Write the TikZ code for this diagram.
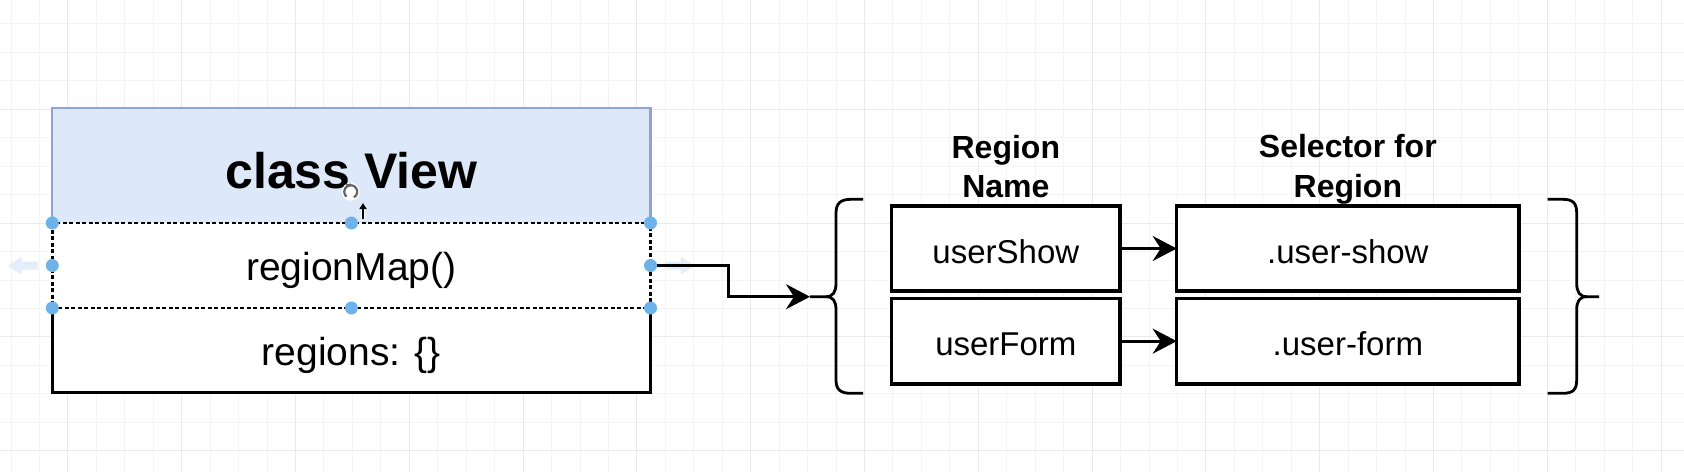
\documentclass[tikz,border=0pt]{standalone}
\usepackage{fontspec}
\setmainfont{Liberation Sans}
\usetikzlibrary{arrows.meta}
\definecolor{gridminor}{HTML}{F4F4F4}
\definecolor{gridmajor}{HTML}{EAEAEA}
\definecolor{hdrfill}{HTML}{DDE8F9}
\definecolor{hdrline}{HTML}{8EA6CF}
\definecolor{handlecol}{HTML}{6DB3EA}
\definecolor{ghostcol}{HTML}{E3EEFA}
\begin{document}
\begin{tikzpicture}[x=1pt,y=-1pt,
  minorline/.style={gridminor,line width=1pt},
  majorline/.style={gridmajor,line width=1pt},
  plainbox/.style={rectangle,inner sep=0pt,outer sep=0pt,fill=white},
  cellbox/.style={rectangle,draw=black,line width=3.2pt,fill=white,inner sep=0pt,outer sep=0pt,
     minimum height=85pt,font=\fontsize{33}{38}\selectfont,text height=29.6pt,text depth=0pt},
  rowtext/.style={font=\fontsize{39}{44}\selectfont,text height=30pt,text depth=0pt},
  hdrtext/.style={font=\bfseries\fontsize{32}{38}\selectfont,anchor=base,inner sep=0pt},
  selline/.style={black,line width=2.4pt,dash pattern=on 4pt off 2.5pt},
  solidline/.style={black,line width=3.2pt},
  conn/.style={black,line width=3pt,-{Stealth[length=24pt,width=25pt,inset=8pt]}},
  bracestyle/.style={black,line width=2.8pt,line join=round},
  handledot/.style={fill=handlecol}
]
\useasboundingbox (0,0) rectangle (1684,472);
\fill[white] (0,0) rectangle (1684,472);
% grid
\foreach \i in {0,...,58} {\draw[minorline] ({11+\i*28.45},0) -- ({11+\i*28.45},472);}
\foreach \j in {0,...,16} {\draw[minorline] (0,{23.95+\j*28.45}) -- (1684,{23.95+\j*28.45});}
\foreach \k in {0,...,14} {\draw[majorline] ({67.9+\k*113.8},0) -- ({67.9+\k*113.8},472);}
\foreach \k in {0,...,3} {\draw[majorline] (0,{109.3+\k*113.8}) -- (1684,{109.3+\k*113.8});}

% class box
\node[plainbox,fill=hdrfill,minimum width=598.2pt,minimum height=114.5pt,
  font=\bfseries\fontsize{50}{56}\selectfont,text height=46pt,text depth=0pt]
  (hdr) at (351.4,165.25) {class View};
\draw[hdrline,line width=2.2pt] (hdr.south west) -- (hdr.north west) -- (hdr.north east) -- (hdr.south east);
\node[plainbox,minimum width=598.2pt,minimum height=85pt,rowtext] (bot) at (351.4,350.25) {regions: \{\}};
\draw[solidline] (bot.north west) -- (bot.south west) -- (bot.south east) -- (bot.north east);
\node[plainbox,minimum width=598.2pt,minimum height=85pt,rowtext] (mid) at (351.4,265.5) {regionMap()};
\draw[selline] (mid.north west) rectangle (mid.south east);

% ghost arrows
\fill[ghostcol] (8,265.7) -- (21.7,256.7) -- (21.7,261.7) -- (38,261.7) -- (38,269.7) -- (21.7,269.7) -- (21.7,274.7) -- cycle;
\fill[ghostcol] (694.5,265.7) -- (680.8,256.7) -- (680.8,261.7) -- (664.5,261.7) -- (664.5,269.7) -- (680.8,269.7) -- (680.8,274.7) -- cycle;

% rotate icon and cursor
\fill[white] (350.7,191.7) circle (9pt);
\draw[black!60,line width=2.2pt] (350.7,191.7) ++(-60:6.5pt) arc[start angle=-60,end angle=230,radius=6.5pt];
\draw[black!60,line width=1.4pt,-{Triangle[length=3pt,width=4pt]}] (346,184.5) -- (352.5,185.5);
\draw[white,line width=4pt] (363,219) -- (363,204);
\draw[black,line width=1.6pt,-{Triangle[length=6pt,width=7pt]}] (363,219) -- (363,203);

% region boxes
\node[cellbox,minimum width=228.3pt] (us) at (1005.85,248.5) {userShow};
\node[cellbox,minimum width=228.3pt,minimum height=85.7pt] (uf) at (1005.85,341.15) {userForm};
\node[cellbox,minimum width=342.3pt] (ss) at (1347.85,248.5) {.user-show};
\node[cellbox,minimum width=342.3pt,minimum height=85.7pt] (sf) at (1347.85,341.15) {.user-form};

% headers
\node[hdrtext] (ha1) at (1005.85,158.3) {Region};
\node[hdrtext] (ha2) at (1005.85,197.3) {Name};
\node[hdrtext] (hb1) at (1347.85,157.5) {Selector for};
\node[hdrtext] (hb2) at (1347.85,197) {Region};

% braces
\coordinate (lb) at (810,296.7);
\coordinate (rb) at (1599,296.7);
\draw[bracestyle] (863,199.3) -- (851,199.3) .. controls (841,199.3) and (836,203) .. (836,213)
  -- (836,283) .. controls (836,292) and (833,296.7) .. (826,296.7) -- (lb);
\draw[bracestyle] (826,296.7) .. controls (833,296.7) and (836,301) .. (836,310)
  -- (836,380) .. controls (836,390) and (841,393.3) .. (851,393.3) -- (863,393.3);
\draw[bracestyle] (1547.7,199.3) -- (1562.7,199.3) .. controls (1572.7,199.3) and (1576.7,203) .. (1576.7,213)
  -- (1576.7,283) .. controls (1576.7,292) and (1579.7,296.7) .. (1586.7,296.7) -- (rb);
\draw[bracestyle] (1586.7,296.7) .. controls (1579.7,296.7) and (1576.7,301) .. (1576.7,310)
  -- (1576.7,380) .. controls (1576.7,390) and (1572.7,393.3) .. (1562.7,393.3) -- (1547.7,393.3);

% connectors
\draw[conn] (mid.east) -- ++(77.5,0) |- (lb);
\draw[conn] (us.east) -- (ss.west);
\draw[conn] (uf.east) -- (sf.west);

% selection handles
\foreach \a in {north west,north,north east,west,east,south west,south,south east}
  {\fill[handledot] (mid.\a) circle (6.5pt);}
\end{tikzpicture}
\end{document}
